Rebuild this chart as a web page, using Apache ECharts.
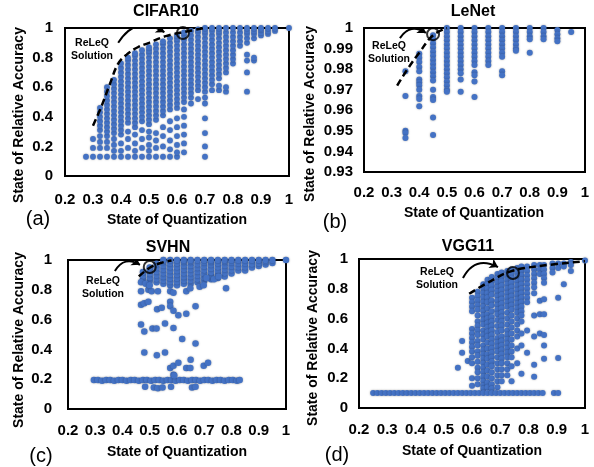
<!DOCTYPE html>
<html>
<head>
<meta charset="utf-8">
<script src="https://cdn.jsdelivr.net/npm/echarts@6/dist/echarts.min.js"></script>
<style>
  html, body { margin: 0; padding: 0; background: #fff; }
  #main { width: 594px; height: 467px; }
</style>
</head>
<body>
<div id="main"></div>
<script>
// ---------- (a) CIFAR10 : x columns and the y values in each column ----------
var cifarX = [0.275, 0.30, 0.325, 0.35, 0.375, 0.40, 0.425, 0.45, 0.475, 0.50, 0.525, 0.55, 0.575, 0.60, 0.625,
    0.65, 0.675, 0.70, 0.725, 0.75, 0.775, 0.80, 0.825, 0.85, 0.875, 0.90, 0.925, 0.95, 1.0];
var cifarY = [
    [0.13],
    [0.13, 0.19, 0.25],
    [0.13, 0.19, 0.23, 0.27, 0.31, 0.34, 0.37, 0.40, 0.43, 0.46],
    [0.13, 0.19, 0.23, 0.27, 0.30, 0.33, 0.36, 0.39, 0.42, 0.45, 0.48, 0.51, 0.54, 0.57, 0.60],
    [0.13, 0.17, 0.21, 0.25, 0.29, 0.32, 0.35, 0.38, 0.41, 0.44, 0.47, 0.50, 0.53, 0.56, 0.59, 0.62, 0.65],
    [0.13, 0.17, 0.22, 0.28, 0.31, 0.34, 0.37, 0.40, 0.43, 0.46, 0.49, 0.52, 0.55, 0.58, 0.61, 0.64, 0.67, 0.70, 0.73, 0.76],
    [0.13, 0.19, 0.25, 0.30, 0.36, 0.39, 0.42, 0.45, 0.48, 0.51, 0.54, 0.57, 0.60, 0.63, 0.66, 0.69, 0.72, 0.75, 0.78, 0.80],
    [0.13, 0.17, 0.22, 0.28, 0.33, 0.36, 0.39, 0.42, 0.45, 0.48, 0.51, 0.54, 0.57, 0.60, 0.63, 0.66, 0.69, 0.72, 0.75, 0.78, 0.81, 0.83],
    [0.13, 0.19, 0.25, 0.31, 0.37, 0.40, 0.43, 0.46, 0.49, 0.52, 0.55, 0.58, 0.61, 0.64, 0.67, 0.70, 0.73, 0.76, 0.79, 0.82, 0.85],
    [0.13, 0.17, 0.21, 0.26, 0.30, 0.35, 0.38, 0.41, 0.44, 0.47, 0.50, 0.53, 0.56, 0.59, 0.62, 0.65, 0.68, 0.71, 0.74, 0.77, 0.80, 0.83, 0.85, 0.87],
    [0.13, 0.19, 0.24, 0.29, 0.38, 0.41, 0.44, 0.47, 0.50, 0.53, 0.56, 0.59, 0.62, 0.65, 0.68, 0.71, 0.74, 0.77, 0.80, 0.83, 0.86, 0.89],
    [0.13, 0.20, 0.27, 0.33, 0.41, 0.44, 0.47, 0.50, 0.53, 0.56, 0.59, 0.62, 0.65, 0.68, 0.71, 0.74, 0.77, 0.80, 0.83, 0.86, 0.89, 0.91],
    [0.13, 0.18, 0.24, 0.31, 0.37, 0.45, 0.48, 0.51, 0.54, 0.57, 0.60, 0.63, 0.66, 0.69, 0.72, 0.75, 0.78, 0.81, 0.84, 0.87, 0.90, 0.93],
    [0.13, 0.16, 0.21, 0.27, 0.33, 0.39, 0.46, 0.49, 0.52, 0.55, 0.58, 0.61, 0.64, 0.67, 0.70, 0.73, 0.76, 0.79, 0.82, 0.85, 0.88, 0.91, 0.93, 0.95],
    [0.16, 0.22, 0.28, 0.34, 0.40, 0.45, 0.50, 0.53, 0.56, 0.59, 0.62, 0.65, 0.68, 0.71, 0.74, 0.77, 0.80, 0.83, 0.86, 0.89, 0.92, 0.95, 0.97],
    [0.49, 0.53, 0.56, 0.59, 0.62, 0.65, 0.68, 0.71, 0.74, 0.77, 0.80, 0.83, 0.86, 0.89, 0.92, 0.95, 0.98],
    [0.52, 0.58, 0.61, 0.64, 0.67, 0.70, 0.73, 0.76, 0.79, 0.82, 0.85, 0.88, 0.91, 0.94, 0.97, 0.99],
    [0.13, 0.20, 0.29, 0.39, 0.49, 0.53, 0.57, 0.60, 0.63, 0.66, 0.69, 0.72, 0.75, 0.78, 0.81, 0.84, 0.87, 0.90, 0.93, 0.96, 0.98, 1.0],
    [0.58, 0.62, 0.65, 0.68, 0.71, 0.74, 0.77, 0.80, 0.83, 0.86, 0.89, 0.92, 0.95, 0.98, 1.0],
    [0.58, 0.61, 0.66, 0.69, 0.72, 0.75, 0.78, 0.81, 0.84, 0.87, 0.90, 0.93, 0.96, 0.98, 1.0],
    [0.57, 0.60, 0.70, 0.73, 0.76, 0.79, 0.82, 0.85, 0.88, 0.91, 0.94, 0.97, 1.0],
    [0.76, 0.79, 0.82, 0.85, 0.88, 0.91, 0.94, 0.97, 1.0],
    [0.88, 0.91, 0.94, 0.97, 1.0],
    [0.57, 0.70, 0.78, 0.82, 0.90, 0.93, 0.96, 0.98, 1.0],
    [0.78, 0.80, 0.93, 0.96, 0.98, 1.0],
    [0.95, 0.97, 0.99, 1.0],
    [0.96, 0.98, 1.0],
    [0.98, 1.0],
    [1.0]
];
var cifarFront = [[0.30, 0.34], [0.33, 0.47], [0.36, 0.62], [0.39, 0.76], [0.42, 0.82], [0.46, 0.87], [0.50, 0.90], [0.56, 0.945], [0.63, 0.975], [0.70, 1.0]];
var cifarPick = [0.621, 0.966];
var cifarArrow = [[0.39, 0.90], [0.555, 0.972]];

// ---------- (b) LeNet ----------
var lenetX = [0.35, 0.40, 0.45, 0.50, 0.55, 0.60, 0.65, 0.70, 0.75, 0.80, 0.85, 0.90, 0.95];
var lenetY = [
    [0.979, 0.967, 0.950, 0.949, 0.9465],
    [0.9875, 0.9855, 0.9835, 0.981, 0.979, 0.975, 0.9735, 0.972, 0.970, 0.967, 0.9655, 0.962],
    [0.9965, 0.9945, 0.9925, 0.9905, 0.9885, 0.9865, 0.9845, 0.9825, 0.9805, 0.9785, 0.9765, 0.9745, 0.970, 0.9665, 0.965, 0.9565, 0.948],
    [1.0, 0.998, 0.996, 0.994, 0.992, 0.990, 0.988, 0.986, 0.984, 0.982, 0.980, 0.978, 0.976, 0.974, 0.972, 0.970, 0.969],
    [1.0, 0.998, 0.996, 0.994, 0.992, 0.990, 0.988, 0.986, 0.984, 0.982, 0.980, 0.978, 0.975, 0.969],
    [1.0, 0.998, 0.996, 0.994, 0.992, 0.990, 0.988, 0.986, 0.984, 0.982, 0.9785, 0.977, 0.974, 0.9665],
    [1.0, 0.998, 0.996, 0.994, 0.992, 0.990, 0.988, 0.986, 0.984, 0.982],
    [1.0, 0.998, 0.996, 0.994, 0.992, 0.990, 0.988, 0.986, 0.979, 0.977],
    [1.0, 0.998, 0.996, 0.994, 0.992, 0.990, 0.989],
    [1.0, 0.998, 0.996, 0.9945, 0.988],
    [1.0, 0.998, 0.996, 0.9945],
    [0.999, 0.997, 0.995, 0.9935],
    [0.998]
];
var lenetFront = [[0.32, 0.972], [0.36, 0.9805], [0.40, 0.988], [0.45, 0.9965], [0.50, 1.0]];
var lenetPick = [0.45, 0.997];
var lenetArrow = [[0.33, 0.9951], [0.424, 0.9976]];

// ---------- (c) SVHN ----------
var svhnX = [0.475, 0.50, 0.525, 0.55, 0.575, 0.60, 0.625, 0.65, 0.675, 0.70, 0.725, 0.75, 0.775, 0.80, 0.825,
    0.85, 0.875, 0.90, 0.925, 0.95, 1.0];
var svhnY = [
    [0.87, 0.895, 0.92],
    [0.86, 0.885, 0.91, 0.935, 0.95],
    [0.85, 0.875, 0.90, 0.925, 0.95, 0.975],
    [0.84, 0.865, 0.89, 0.915, 0.94, 0.965, 0.99, 1.0],
    [0.83, 0.855, 0.88, 0.905, 0.93, 0.955, 0.98, 1.0],
    [0.83, 0.855, 0.88, 0.905, 0.93, 0.955, 0.98, 1.0],
    [0.84, 0.865, 0.89, 0.915, 0.94, 0.965, 0.99, 1.0],
    [0.84, 0.865, 0.89, 0.915, 0.94, 0.965, 0.99, 1.0],
    [0.85, 0.875, 0.90, 0.925, 0.95, 0.975, 1.0],
    [0.86, 0.885, 0.91, 0.935, 0.96, 0.985, 1.0],
    [0.87, 0.895, 0.92, 0.945, 0.97, 0.99, 1.0],
    [0.88, 0.905, 0.93, 0.955, 0.98, 1.0],
    [0.89, 0.915, 0.94, 0.965, 0.99, 1.0],
    [0.91, 0.935, 0.96, 0.985, 1.0],
    [0.93, 0.955, 0.98, 1.0],
    [0.93, 0.955, 0.98, 1.0],
    [0.95, 0.975, 1.0],
    [0.96, 0.98, 1.0],
    [0.97, 0.99, 1.0],
    [0.98, 1.0],
    [1.0]
];
// scattered points between the top cluster and the bottom band
var svhnMidX = [0.468, 0.48, 0.51, 0.525, 0.556, 0.587, 0.619, 0.668, 0.48, 0.526, 0.556, 0.575, 0.587, 0.605, 0.587, 0.634, 0.649, 0.65, 0.698, 0.714,
    0.468, 0.48, 0.495, 0.527, 0.544, 0.575, 0.575, 0.587, 0.605, 0.634, 0.668,
    0.468, 0.495, 0.507, 0.53, 0.575, 0.587, 0.634, 0.649, 0.683, 0.698, 0.78, 0.468, 0.485, 0.50, 0.708, 0.736, 0.753];
var svhnMidY = [0.567, 0.52, 0.54, 0.54, 0.573, 0.544, 0.47, 0.44, 0.38, 0.36, 0.38, 0.276, 0.29, 0.31, 0.23, 0.275, 0.275, 0.33, 0.29, 0.31,
    0.70, 0.71, 0.72, 0.67, 0.68, 0.72, 0.69, 0.66, 0.63, 0.64, 0.69,
    0.79, 0.80, 0.79, 0.79, 0.79, 0.78, 0.79, 0.81, 0.82, 0.83, 0.81, 0.85, 0.84, 0.83, 0.88, 0.87, 0.89];
var svhnBandX = [0.295, 0.31, 0.325, 0.34, 0.355, 0.37, 0.385, 0.40, 0.415, 0.43, 0.445, 0.46, 0.475, 0.49, 0.505, 0.52, 0.535, 0.55, 0.565,
    0.58, 0.595, 0.61, 0.625, 0.64, 0.655, 0.67, 0.685, 0.70, 0.715, 0.73, 0.745, 0.76, 0.775, 0.79, 0.805, 0.82, 0.83];
var svhnBandY = [0.195, 0.195, 0.19, 0.195, 0.195, 0.19, 0.195, 0.195, 0.19, 0.195, 0.195, 0.19, 0.195, 0.195, 0.19, 0.195, 0.195, 0.19, 0.195,
    0.195, 0.19, 0.195, 0.195, 0.19, 0.195, 0.195, 0.19, 0.195, 0.195, 0.19, 0.195, 0.195, 0.19, 0.195, 0.195, 0.19, 0.195];
var svhnLowX = [0.483, 0.515, 0.53, 0.547, 0.578, 0.655, 0.668, 0.59];
var svhnLowY = [0.15, 0.145, 0.14, 0.145, 0.15, 0.145, 0.15, 0.225];
var svhnFront = [[0.46, 0.89], [0.50, 0.948], [0.54, 0.98], [0.58, 0.997]];
var svhnPick = [0.50, 0.953];
var svhnArrow = [[0.372, 0.926], [0.464, 0.968]];

// ---------- (d) VGG11 ----------
var vggX = [0.55, 0.565, 0.585, 0.60, 0.62, 0.64, 0.655, 0.67, 0.69, 0.705, 0.725, 0.74, 0.76, 0.775, 0.795, 0.82, 0.84, 0.855,
    0.885, 0.905, 0.925, 0.95, 1.0];
var vggY = [
    [0.27],
    [0.45, 0.37],
    [0.315],
    [0.74, 0.71, 0.68, 0.65, 0.53, 0.50, 0.47, 0.44, 0.41, 0.38, 0.34, 0.30, 0.20, 0.15],
    [0.78, 0.75, 0.72, 0.69, 0.66, 0.62, 0.58, 0.55, 0.52, 0.49, 0.45, 0.42, 0.38, 0.35, 0.31, 0.27, 0.24, 0.20, 0.16],
    [0.83, 0.80, 0.77, 0.74, 0.71, 0.68, 0.65, 0.62, 0.59, 0.56, 0.52, 0.49, 0.46, 0.42, 0.39, 0.36, 0.33, 0.30, 0.27, 0.24, 0.21, 0.18, 0.15, 0.13],
    [0.86, 0.83, 0.80, 0.77, 0.74, 0.71, 0.67, 0.63, 0.60, 0.57, 0.54, 0.51, 0.48, 0.44, 0.40, 0.36, 0.33, 0.29, 0.25, 0.21, 0.17, 0.14],
    [0.88, 0.85, 0.82, 0.79, 0.76, 0.72, 0.69, 0.65, 0.61, 0.58, 0.55, 0.52, 0.49, 0.46, 0.43, 0.40, 0.37, 0.34, 0.31, 0.28, 0.24, 0.20, 0.16, 0.13],
    [0.90, 0.87, 0.84, 0.81, 0.78, 0.75, 0.72, 0.69, 0.66, 0.63, 0.59, 0.55, 0.51, 0.47, 0.44, 0.41, 0.38, 0.34, 0.30, 0.26, 0.22, 0.18, 0.14],
    [0.91, 0.88, 0.85, 0.82, 0.79, 0.76, 0.73, 0.70, 0.67, 0.64, 0.61, 0.58, 0.55, 0.52, 0.48, 0.45, 0.42, 0.39, 0.36, 0.33, 0.30, 0.26, 0.22, 0.18],
    [0.92, 0.89, 0.86, 0.83, 0.80, 0.77, 0.74, 0.71, 0.68, 0.64, 0.60, 0.56, 0.52, 0.49, 0.46, 0.43, 0.40, 0.37, 0.34, 0.30, 0.26, 0.22],
    [0.93, 0.90, 0.87, 0.84, 0.81, 0.78, 0.75, 0.72, 0.69, 0.66, 0.62, 0.58, 0.54, 0.50, 0.46, 0.42, 0.38, 0.34, 0.28, 0.18],
    [0.94, 0.91, 0.88, 0.85, 0.82, 0.79, 0.76, 0.73, 0.70, 0.67, 0.64, 0.60, 0.56, 0.52, 0.48, 0.40, 0.30],
    [0.95, 0.92, 0.89, 0.86, 0.83, 0.80, 0.77, 0.74, 0.71, 0.68, 0.65, 0.62, 0.58, 0.50, 0.42, 0.23],
    [0.95, 0.92, 0.89, 0.86, 0.83, 0.80, 0.77, 0.74, 0.71, 0.52, 0.37],
    [0.96, 0.93, 0.90, 0.87, 0.84, 0.81, 0.77, 0.62, 0.48, 0.29, 0.21],
    [0.96, 0.93, 0.90, 0.72, 0.63, 0.50],
    [0.96, 0.93, 0.90, 0.87, 0.84, 0.73, 0.63, 0.49, 0.42, 0.33],
    [0.97, 0.94, 0.91],
    [0.97, 0.94, 0.74, 0.335],
    [0.97, 0.95, 0.83],
    [0.98, 0.96, 0.92],
    [0.99]
];
var vggBandX = [0.25, 0.265, 0.28, 0.295, 0.31, 0.325, 0.34, 0.355, 0.37, 0.385, 0.40, 0.415, 0.43, 0.445, 0.46, 0.475, 0.49, 0.505,
    0.52, 0.535, 0.55, 0.565, 0.58, 0.595, 0.61, 0.625, 0.64, 0.655, 0.67, 0.685, 0.70, 0.715, 0.73, 0.745, 0.76, 0.775, 0.79,
    0.805, 0.82, 0.835, 0.85, 0.89, 0.905];
var vggBandY = 0.10;
var vggFront = [[0.59, 0.767], [0.654, 0.839], [0.737, 0.917], [0.831, 0.951], [1.0, 0.985]];
var vggPick = [0.745, 0.906];
var vggArrow = [[0.568, 0.872], [0.692, 0.946]];

// ---------- helpers ----------
var FONT = '"Liberation Sans", Arial, sans-serif';
var DOT = '#4472C4';

function columnsToPoints(xs, ys) {
    var pts = [];
    for (var i = 0; i < xs.length; i++) {
        for (var j = 0; j < ys[i].length; j++) {
            pts.push([xs[i], ys[i][j]]);
        }
    }
    return pts;
}

function pairs(xs, ys) {
    var pts = [];
    for (var i = 0; i < xs.length; i++) {
        pts.push([xs[i], Array.isArray(ys) ? ys[i] : ys]);
    }
    return pts;
}

function fmt1(v) {
    if (Math.abs(v) < 1e-9) return '0';
    if (Math.abs(v - 1) < 1e-9) return '1';
    return v.toFixed(1);
}

function fmt2(v) {
    if (Math.abs(v - 1) < 1e-9) return '1';
    return v.toFixed(2);
}

function makeX(idx, margin) {
    return {
        gridIndex: idx, type: 'value', min: 0.2, max: 1, interval: 0.1,
        axisLine: { show: false }, axisTick: { show: false }, splitLine: { show: false },
        axisLabel: { margin: margin, color: '#000', fontWeight: 'bold', fontSize: 15, fontFamily: FONT, formatter: fmt1 }
    };
}

function makeY(idx, min, interval, margin, f) {
    return {
        gridIndex: idx, type: 'value', min: min, max: 1, interval: interval,
        axisLine: { show: false }, axisTick: { show: false }, splitLine: { show: false },
        axisLabel: { margin: margin, color: '#000', fontWeight: 'bold', fontSize: 15, fontFamily: FONT, formatter: f }
    };
}

function dots(idx, data, size) {
    return {
        type: 'scatter', xAxisIndex: idx, yAxisIndex: idx, data: data,
        symbolSize: size, silent: true,
        itemStyle: { color: DOT, opacity: 1, shadowBlur: 2, shadowColor: 'rgba(0,0,0,0.35)' },
        z: 2
    };
}

// dashed frontier, circled solution and curved arrow for each panel
function annotations(idx, front, pick, arrow, curve) {
    return [{
        type: 'line', xAxisIndex: idx, yAxisIndex: idx, data: front, smooth: 0.4,
        symbol: 'none', silent: true,
        lineStyle: { color: '#000', width: 2.5, type: [7, 4] }, z: 4
    }, {
        type: 'scatter', xAxisIndex: idx, yAxisIndex: idx, data: [pick], symbolSize: 12, silent: true,
        itemStyle: { color: 'rgba(0,0,0,0)', borderColor: '#000', borderWidth: 2 }, z: 5
    }, {
        type: 'lines', coordinateSystem: 'cartesian2d', xAxisIndex: idx, yAxisIndex: idx, silent: true,
        symbol: ['none', 'arrow'], symbolSize: 8,
        lineStyle: { color: '#000', width: 2, opacity: 1, curveness: curve },
        data: [{ coords: arrow }], z: 5
    }];
}

function txt(x, y, s, size, weight, rot) {
    return {
        type: 'text', x: x, y: y, rotation: rot || 0,
        style: {
            text: s, fill: '#000', fontSize: size, fontWeight: weight, fontFamily: FONT,
            align: 'center', verticalAlign: 'middle', lineHeight: 13
        }
    };
}

var gridStyle = { show: true, borderColor: '#000', borderWidth: 2, backgroundColor: '#fff' };

var chart = echarts.init(document.getElementById('main'));

var series = [];
series.push(dots(0, columnsToPoints(cifarX, cifarY), 5.8));
series = series.concat(annotations(0, cifarFront, cifarPick, cifarArrow, 0.5));
series.push(dots(1, columnsToPoints(lenetX, lenetY), 6));
series = series.concat(annotations(1, lenetFront, lenetPick, lenetArrow, 0.5));
series.push(dots(2, columnsToPoints(svhnX, svhnY)
    .concat(pairs(svhnMidX, svhnMidY))
    .concat(pairs(svhnBandX, svhnBandY))
    .concat(pairs(svhnLowX, svhnLowY)), 6.5));
series = series.concat(annotations(2, svhnFront, svhnPick, svhnArrow, 0.5));
series.push(dots(3, columnsToPoints(vggX, vggY).concat(pairs(vggBandX, vggBandY)), 6));
series = series.concat(annotations(3, vggFront, vggPick, vggArrow, 0.5));

var option = {
    animation: false,
    backgroundColor: '#fff',
    grid: [
        Object.assign({ left: 65, top: 28, width: 224, height: 148 }, gridStyle),
        Object.assign({ left: 364, top: 28, width: 221, height: 144 }, gridStyle),
        Object.assign({ left: 68, top: 260, width: 218, height: 149 }, gridStyle),
        Object.assign({ left: 359, top: 259, width: 226, height: 149 }, gridStyle)
    ],
    xAxis: [makeX(0, 16), makeX(1, 13), makeX(2, 14), makeX(3, 14)],
    yAxis: [
        makeY(0, 0, 0.2, 12, fmt1),
        makeY(1, 0.93, 0.01, 11, fmt2),
        makeY(2, 0, 0.2, 16, fmt1),
        makeY(3, 0, 0.2, 11, fmt1)
    ],
    series: series,
    graphic: [
        // panel titles
        txt(166, 12, 'CIFAR10', 16, 'bold'),
        txt(473, 12, 'LeNet', 16, 'bold'),
        txt(168, 248, 'SVHN', 16, 'bold'),
        txt(468, 247, 'VGG11', 16, 'bold'),
        // axis names
        txt(19, 115, 'State of Relative Accuracy', 14, 'bold', Math.PI / 2),
        txt(310, 114, 'State of Relative Accuracy', 14, 'bold', Math.PI / 2),
        txt(19, 340, 'State of Relative Accuracy', 14, 'bold', Math.PI / 2),
        txt(313, 338, 'State of Relative Accuracy', 14, 'bold', Math.PI / 2),
        txt(177, 220, 'State of Quantization', 14, 'bold'),
        txt(474, 213, 'State of Quantization', 14, 'bold'),
        txt(177, 452, 'State of Quantization', 14, 'bold'),
        txt(472, 451, 'State of Quantization', 14, 'bold'),
        // panel letters
        txt(38, 219, '(a)', 20, 'normal'),
        txt(335, 222, '(b)', 20, 'normal'),
        txt(41, 456, '(c)', 20, 'normal'),
        txt(337, 455, '(d)', 20, 'normal'),
        // ReLeQ labels
        txt(92, 50, 'ReLeQ\nSolution', 10.5, 'bold'),
        txt(389, 53, 'ReLeQ\nSolution', 10.5, 'bold'),
        txt(103, 288, 'ReLeQ\nSolution', 10.5, 'bold'),
        txt(437, 279, 'ReLeQ\nSolution', 10.5, 'bold')
    ]
};
chart.setOption(option);
</script>
</body>
</html>
